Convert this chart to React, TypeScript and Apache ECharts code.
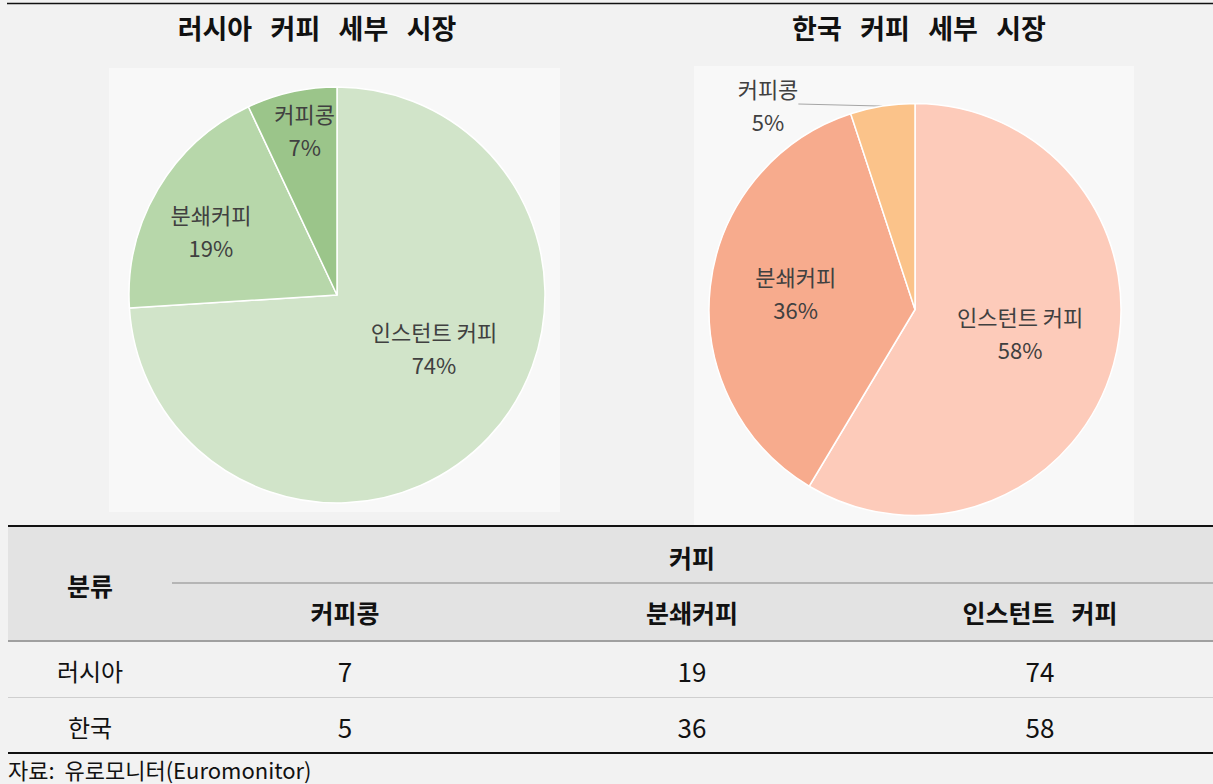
import React, { useEffect, useRef } from "react";
import * as echarts from "echarts";

const categories = ["커피콩", "분쇄커피", "인스턴트 커피"];
const countries = ["러시아", "한국"];
const russiaValues = [7, 19, 74];
const koreaValues = [5, 36, 58];
const titles = ["러시아   커피   세부   시장", "한국   커피   세부   시장"];
const russiaColors = ["#9bc58a", "#b7d7aa", "#d1e4c9"];
const koreaColors = ["#fbc38a", "#f7ab8d", "#fdcbba"];
const groupHeader = "커피";
const rowHeader = "분류";
const source = "자료:  유로모니터(Euromonitor)";

const FONT = "'Noto Sans CJK KR', 'Noto Sans', sans-serif";

export default function App() {
  const ref = useRef<HTMLDivElement>(null);
  useEffect(() => {
    document.body.style.margin = "0";
    document.body.style.background = "#f2f2f2";
    const chart = echarts.init(ref.current!, null, { renderer: "svg" });

    const pieData = (vals: number[], cols: string[]) =>
      [2, 1, 0].map((i) => ({
        name: categories[i],
        value: vals[i],
        itemStyle: { color: cols[i] },
      }));

    // label shifts (layout), indexed by series then data order (인스턴트, 분쇄, 커피콩)
    const shifts = [
      [
        [19, -21],
        [-34, -10],
        [-9, -61],
      ],
      [
        [3, -5],
        [-14, -5],
      ],
    ];

    const labelStyle = {
      show: true,
      position: "inside",
      formatter: "{b}\n{c}%",
      fontFamily: FONT,
      fontSize: 22,
      lineHeight: 33,
      color: "#404040",
    };

    const colX = [345, 692, 1040];
    const rowY = [670, 726];
    const tableTexts: any[] = [];
    const txt = (x: number, y: number, t: string, size: number, bold: boolean, align = "center") => ({
      type: "text",
      x,
      y,
      silent: true,
      style: {
        text: t,
        x: 0,
        y: 0,
        align,
        verticalAlign: "middle",
        fontFamily: FONT,
        fontSize: size,
        fontWeight: bold ? "bold" : "normal",
        fill: "#111",
      },
    });
    tableTexts.push(txt(692, 557, groupHeader, 25, true));
    tableTexts.push(txt(90, 585, rowHeader, 25, true));
    categories.forEach((c, i) => tableTexts.push(txt(colX[i], 612, c.replace(" ", "   "), 25, true)));
    [russiaValues, koreaValues].forEach((vals, r) => {
      tableTexts.push(txt(90, rowY[r], countries[r], 24, false));
      vals.forEach((v, i) => tableTexts.push(txt(colX[i], rowY[r], String(v), 26, false)));
    });

    const line = (x1: number, y1: number, x2: number, y2: number, color: string, w: number) => ({
      type: "line",
      silent: true,
      shape: { x1, y1, x2, y2 },
      style: { stroke: color, lineWidth: w },
    });

    chart.setOption({
      animation: false,
      backgroundColor: "#f2f2f2",
      graphic: [
        { type: "rect", z: -10, silent: true, shape: { x: 109, y: 68, width: 451, height: 444 }, style: { fill: "#f8f8f8" } },
        { type: "rect", z: -10, silent: true, shape: { x: 694, y: 66, width: 440, height: 460 }, style: { fill: "#f8f8f8" } },
        { type: "rect", z: -10, silent: true, shape: { x: 8, y: 527, width: 1205, height: 114 }, style: { fill: "#e3e3e3" } },
        line(7, 3.5, 1213, 3.5, "#111", 1.5),
        line(8, 526, 1213, 526, "#111", 2),
        line(172, 583, 1213, 583, "#a6a6a6", 1.5),
        line(8, 641, 1213, 641, "#a0a0a0", 2),
        line(8, 697.5, 1213, 697.5, "#cfcfcf", 1),
        line(8, 753, 1213, 753, "#111", 2),
        txt(317, 27, titles[0], 27, true),
        txt(919, 27, titles[1], 27, true),
        ...tableTexts,
        txt(8, 769, source, 22, false, "left"),
      ],
      series: [
        {
          type: "pie",
          center: [337, 295],
          radius: 208,
          startAngle: 90,
          clockwise: true,
          silent: true,
          itemStyle: { borderColor: "#ffffff", borderWidth: 1.5 },
          label: labelStyle,
          labelLine: { show: false },
          data: pieData(russiaValues, russiaColors),
          labelLayout: (p: any) => {
            const s = shifts[0][p.dataIndex];
            return { dx: s[0], dy: s[1] };
          },
        },
        {
          type: "pie",
          center: [915, 309.5],
          radius: 206,
          startAngle: 90,
          clockwise: true,
          silent: true,
          itemStyle: { borderColor: "#ffffff", borderWidth: 1.5 },
          label: labelStyle,
          labelLine: { show: false },
          data: pieData(koreaValues, koreaColors).map((d, i) =>
            i === 2
              ? {
                  ...d,
                  label: { position: "outside", distance: 10 },
                  labelLine: { show: true, length: 20, length2: 0, lineStyle: { color: "#a6a6a6", width: 1 } },
                }
              : d
          ),
          labelLayout: (p: any) => {
            if (p.dataIndex === 2) {
              return { x: 768, y: 104, align: "center", verticalAlign: "middle" };
            }
            const s = shifts[1][p.dataIndex];
            return { dx: s[0], dy: s[1] };
          },
        },
      ],
    });
    return () => chart.dispose();
  }, []);
  return <div ref={ref} style={{ width: 1213, height: 784, background: "#f2f2f2" }} />;
}
